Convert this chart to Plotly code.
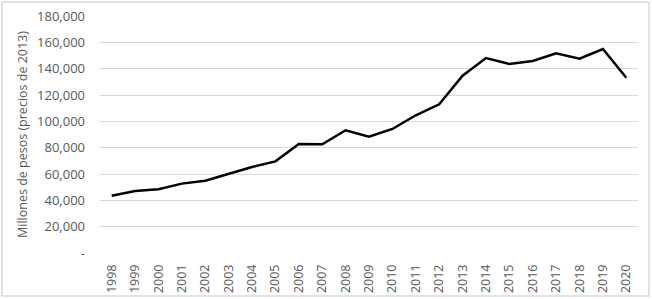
import plotly.graph_objects as go

years = [str(y) for y in range(1998, 2021)]
values = [43500, 47100, 48400, 52700, 54900, 60000, 65300, 69600, 82800, 82600,
          93200, 88300, 94200, 104600, 112900, 134700, 148100, 143500, 145800,
          151700, 147600, 154900, 133100]
ytick_vals = [0, 20000, 40000, 60000, 80000, 100000, 120000, 140000, 160000, 180000]
ytick_text = ["-", "20,000", "40,000", "60,000", "80,000", "100,000", "120,000",
              "140,000", "160,000", "180,000"]

W, H = 652, 299
L, R, T, B = 100, 14, 16, 46
pw, ph = W - L - R, H - T - B

def px(x):
    return (x - L) / pw

def py(y):
    return (H - B - y) / ph

fig = go.Figure()
fig.add_trace(go.Scatter(x=years, y=values, mode="lines",
                         line=dict(color="black", width=2.5), hoverinfo="skip",
                         cliponaxis=False))

font = dict(family="Open Sans, Liberation Sans, sans-serif", size=12, color="#595959")
fig.update_layout(
    width=W, height=H,
    margin=dict(l=L, r=R, t=T, b=B, pad=0, autoexpand=False),
    paper_bgcolor="white", plot_bgcolor="white",
    showlegend=False,
    font=font,
    xaxis=dict(type="category", range=[-0.5, len(years) - 0.5], tickangle=-90,
               showgrid=False, showline=False, automargin=False,
               ticks="", ticklabelstandoff=8,
               tickfont=dict(size=12.5, color="#595959"), zeroline=False),
    yaxis=dict(range=[0, 180000], tickvals=ytick_vals, ticktext=ytick_text,
               showgrid=True, gridcolor="#d9d9d9", gridwidth=1, zeroline=False,
               showline=False, ticks="", ticklen=0, automargin=False,
               ticklabelstandoff=14,
               tickfont=dict(size=13, color="#595959"),
               title=dict(text="Millones de pesos (precios de 2013)",
                          font=dict(size=12.5, color="#595959"), standoff=6)),
    shapes=[dict(type="rect", xref="paper", yref="paper",
                 x0=px(2), x1=px(649), y0=py(296), y1=py(2),
                 line=dict(color="#d9d9d9", width=1.5), layer="below")],
)
fig.write_html("out.html", config={"displayModeBar": False, "staticPlot": True},
               post_script="document.body.style.margin='0';document.body.style.overflow='hidden';")
